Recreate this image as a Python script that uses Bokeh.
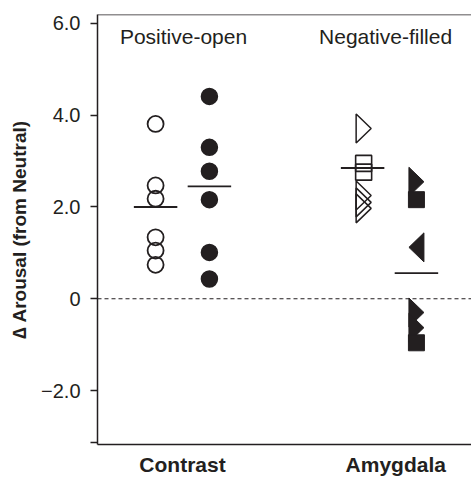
from bokeh.plotting import figure
from bokeh.models import FixedTicker, Span, Label, Range1d
from bokeh.embed import file_html
from bokeh.resources import INLINE

# ---------------- data ----------------
groups = ["Contrast", "Amygdala"]
group_x = [1.0, 2.0]
group_label_x = [1.0, 2.03]

contrast_pos = [3.81, 2.47, 2.18, 1.34, 1.05, 0.74]          # open circles
contrast_neg = [4.41, 3.30, 2.78, 2.16, 1.01, 0.43]          # filled circles
amyg_pos = [3.71, 2.95, 2.76, 2.25, 2.10, 1.97]              # open symbols
amyg_pos_marker = ["tri_right", "square", "square", "tri_right", "tri_right", "tri_right"]
amyg_neg = [2.55, 2.16, 1.12, -0.30, -0.63, -0.96]           # filled symbols
amyg_neg_marker = ["tri_right", "square", "tri_left", "tri_right", "tri_right", "square"]

means_pos = [2.00, 2.85]
means_neg = [2.45, 0.56]

y_ticks = [-3.13, -2.0, 0.0, 2.0, 4.0, 6.0]
y_tick_labels = ["", "\u22122.0", "0", "2.0", "4.0", "6.0"]

header_labels = ["Positive-open", "Negative-filled"]
header_x = [1.005, 1.981]
header_y = 5.72

# ---------------- styling / layout ----------------
INK = "#231f20"
W, H = 471, 479
BL, BR, BT, BB = 97, 0, 14, 35
X0, X1 = 0.5894, 2.396
Y0, Y1 = -3.177, 6.196
OFF = 0.13          # offset of the positive / negative columns from group centre
MEAN_HALF = 0.105   # half length of mean bars
TRI_DEPTH_PX, TRI_BASE_PX = 15.0, 29.0

px_x = (W - BL - BR) / (X1 - X0)
px_y = (H - BT - BB) / (Y1 - Y0)
tri_dx = TRI_DEPTH_PX / px_x
tri_hb = TRI_BASE_PX / 2.0 / px_y

p = figure(width=W, height=H, output_backend="svg", toolbar_location=None,
           x_range=Range1d(X0, X1), y_range=Range1d(Y0, Y1),
           min_border_left=BL, min_border_right=BR, min_border_top=BT, min_border_bottom=BB)
p.outline_line_color = None
p.xgrid.visible = False
p.ygrid.visible = False
p.background_fill_color = "white"
p.border_fill_color = "white"

# y axis
ya = p.yaxis[0]
ya.ticker = FixedTicker(ticks=y_ticks)
ya.major_label_overrides = dict(zip(y_ticks, y_tick_labels))
ya.major_tick_out = 7
ya.major_tick_in = 0
ya.minor_tick_out = 0
ya.minor_tick_in = 0
ya.major_tick_line_width = 1.3
ya.major_tick_line_color = INK
ya.axis_line_width = 1.5
ya.axis_line_color = INK
ya.major_label_text_font = "Liberation Sans"
ya.major_label_text_font_size = "20px"
ya.major_label_text_color = INK
ya.major_label_standoff = 10
ya.axis_label = "\u2206 Arousal (from Neutral)"
ya.axis_label_text_font = "Liberation Sans"
ya.axis_label_text_font_style = "bold"
ya.axis_label_text_font_size = "19px"
ya.axis_label_text_color = INK
ya.axis_label_standoff = 8

# x axis (bottom)
xa = p.xaxis[0]
xa.ticker = FixedTicker(ticks=group_label_x)
xa.major_label_overrides = dict(zip(group_label_x, groups))
xa.major_tick_out = 0
xa.major_tick_in = 0
xa.minor_tick_out = 0
xa.minor_tick_in = 0
xa.axis_line_width = 1.5
xa.axis_line_color = INK
xa.major_label_text_font = "Liberation Sans"
xa.major_label_text_font_style = "bold"
xa.major_label_text_font_size = "21px"
xa.major_label_text_color = INK
xa.major_label_standoff = 8

# top border
p.add_layout(Span(location=Y1, dimension="width", line_width=1.5, line_color=INK))

# zero line
p.add_layout(Span(location=0, dimension="width", line_dash="4 3",
                  line_width=1.2, line_color=INK))

# headers
for hx, ht in zip(header_x, header_labels):
    p.add_layout(Label(x=hx, y=header_y, text=ht, text_align="center",
                       text_baseline="alphabetic", text_font="Liberation Sans",
                       text_font_size="21px", text_color=INK))

# Contrast circles
cx_pos = group_x[0] - OFF
cx_neg = group_x[0] + OFF
p.scatter([cx_pos] * len(contrast_pos), contrast_pos, marker="circle", size=16,
          fill_color=None, line_color=INK, line_width=1.8)
p.scatter([cx_neg] * len(contrast_neg), contrast_neg, marker="circle", size=16,
          fill_color=INK, line_color=INK, line_width=1.5)

# Amygdala symbols
ax_pos = group_x[1] - OFF + 0.005
ax_neg = group_x[1] + OFF


def tri(cx, cy, direction):
    if direction == "tri_right":
        return ([cx - tri_dx / 2, cx - tri_dx / 2, cx + tri_dx / 2],
                [cy + tri_hb, cy - tri_hb, cy])
    return ([cx + tri_dx / 2, cx + tri_dx / 2, cx - tri_dx / 2],
            [cy + tri_hb, cy - tri_hb, cy])


def draw_set(cx, vals, markers, filled):
    sq_y = [v for v, m in zip(vals, markers) if m == "square"]
    xs, ys = [], []
    for v, m in zip(vals, markers):
        if m.startswith("tri"):
            tx, ty = tri(cx, v, m)
            xs.append(tx)
            ys.append(ty)
    if filled:
        p.patches(xs, ys, fill_color=INK, line_color=INK, line_width=1.0)
        p.scatter([cx] * len(sq_y), sq_y, marker="square", size=16,
                  fill_color=INK, line_color=INK, line_width=1.0)
    else:
        p.patches(xs, ys, fill_color=None, line_color=INK, line_width=1.5)
        p.scatter([cx] * len(sq_y), sq_y, marker="square", size=16,
                  fill_color=None, line_color=INK, line_width=1.6)


draw_set(ax_pos, amyg_pos, amyg_pos_marker, filled=False)
draw_set(ax_neg, amyg_neg, amyg_neg_marker, filled=True)

# mean bars
mx = [group_x[0] - OFF, group_x[1] - OFF, group_x[0] + OFF, group_x[1] + OFF]
my = [means_pos[0], means_pos[1], means_neg[0], means_neg[1]]
p.segment(x0=[m - MEAN_HALF for m in mx], y0=my, x1=[m + MEAN_HALF for m in mx], y1=my,
          line_color=INK, line_width=1.8)

open("out.html", "w").write(file_html(p, INLINE))
